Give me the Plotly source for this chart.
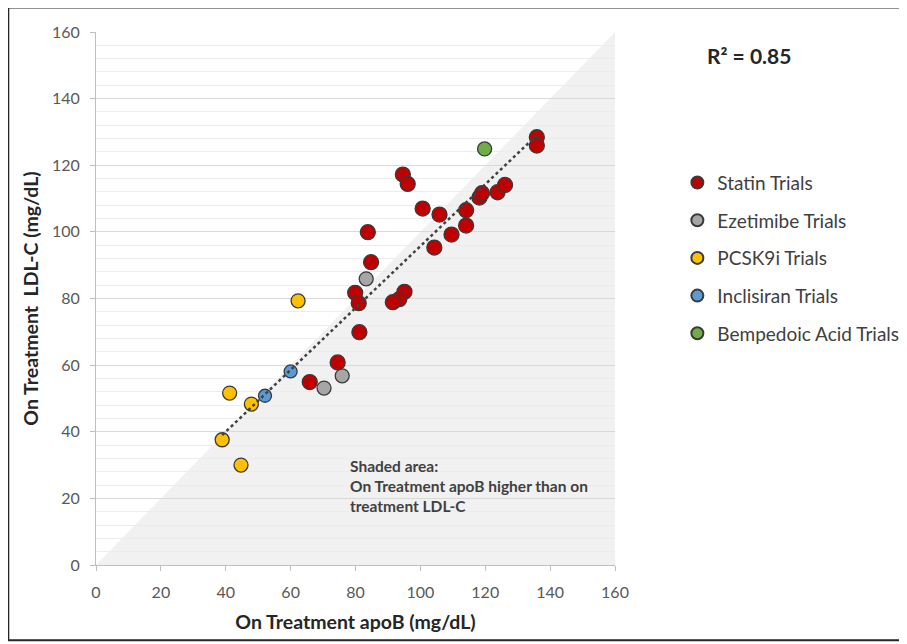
import numpy as np
import plotly.graph_objects as go

# ---- data ----
statin_apob = [135.9, 135.9, 94.6, 96.1, 100.7, 105.9, 114.1, 114.1, 109.6, 104.3, 83.8, 84.8,
               79.9, 81.0, 95.1, 93.5, 91.5, 118.2, 119.0, 123.8, 126.1, 81.2, 74.5, 65.9]
statin_ldl = [128.4, 125.9, 117.2, 114.4, 107.0, 105.2, 106.5, 101.9, 99.2, 95.3, 99.9, 90.9,
              81.7, 78.6, 82.0, 79.8, 78.9, 110.3, 111.6, 111.9, 114.1, 69.9, 60.8, 54.9]
ezet_apob = [83.3, 75.9, 70.3]
ezet_ldl = [85.9, 56.8, 53.1]
pcsk9_apob = [62.3, 41.2, 47.9, 38.9, 44.7]
pcsk9_ldl = [79.3, 51.6, 48.3, 37.6, 30.0]
incl_apob = [60.0, 52.1]
incl_ldl = [58.1, 50.8]
bemp_apob = [119.8]
bemp_ldl = [124.9]

axis_ticks = [0, 20, 40, 60, 80, 100, 120, 140, 160]
r2_label = "R² = 0.85"

FONT = "Lato, 'Open Sans', sans-serif"
OUTLINE = "#3a3a3a"

fig = go.Figure()

# shaded triangle (apoB > LDL-C)
fig.add_shape(type="path", path="M 0 0 L 160 0 L 160 160 Z", xref="x", yref="y",
              fillcolor="#f1f1f1", line=dict(width=0), layer="below")

def add_series(name, xs, ys, color, size, rank):
    fig.add_trace(go.Scatter(
        x=xs, y=ys, mode="markers", name=name, legendrank=rank, legendgroup=name,
        marker=dict(color=color, size=size, line=dict(color=OUTLINE, width=1.3)),
    ))

add_series("Ezetimibe Trials", ezet_apob, ezet_ldl, "#a6a6a6", 14, 2)
add_series("PCSK9i Trials", pcsk9_apob, pcsk9_ldl, "#ffc000", 14, 3)
add_series("Inclisiran Trials", incl_apob, incl_ldl, "#5b9bd5", 13, 4)
add_series("Statin Trials", statin_apob, statin_ldl, "#c00000", 15, 1)
add_series("Bempedoic Acid Trials", bemp_apob, bemp_ldl, "#70ad47", 14, 5)

# linear trendline over all points
all_x = np.array(statin_apob + ezet_apob + pcsk9_apob + incl_apob + bemp_apob)
all_y = np.array(statin_ldl + ezet_ldl + pcsk9_ldl + incl_ldl + bemp_ldl)
slope, intercept = np.polyfit(all_x, all_y, 1)
tx = np.array([all_x.min(), all_x.max()])
fig.add_trace(go.Scatter(x=tx, y=slope * tx + intercept, mode="lines", showlegend=False,
                         line=dict(color="#404040", width=2.5, dash="dot"), hoverinfo="skip"))

# outer frame
fig.add_shape(type="rect", xref="paper", yref="paper",
              x0=-0.169, x1=1.566, y0=-0.141, y1=1.046,
              line=dict(color="#262626", width=2), fillcolor="rgba(0,0,0,0)", layer="above")

fig.add_annotation(text="<b>" + r2_label + "</b>", xref="paper", yref="paper",
                   x=1.173, y=0.956, xanchor="left", yanchor="middle", showarrow=False,
                   font=dict(family=FONT, size=21, color="#262626"))

fig.add_annotation(text="<b>Shaded area:<br>On Treatment apoB higher than on<br>treatment LDL-C</b>",
                   xref="paper", yref="paper", x=0.485, y=0.207, xanchor="left", yanchor="top",
                   align="left", showarrow=False,
                   font=dict(family=FONT, size=15.5, color="#404040"))

axis_common = dict(range=[0, 160], tickvals=axis_ticks, ticktext=[str(t) for t in axis_ticks],
                   showgrid=True, gridcolor="#d9d9d9", gridwidth=1,
                   minor=dict(dtick=4, showgrid=True, gridcolor="#ececec", gridwidth=1),
                   showline=True, linecolor="#bfbfbf", linewidth=1,
                   ticks="outside", ticklen=5, tickcolor="#bfbfbf",
                   tickfont=dict(family=FONT, size=16, color="#595959"),
                   zeroline=False, fixedrange=True)

fig.update_xaxes(**axis_common, ticklabelstandoff=8,
                 title=dict(text="<b>On Treatment apoB (mg/dL)</b>", standoff=15,
                            font=dict(family=FONT, size=19.5, color="#262626")))
fig.update_yaxes(**axis_common, ticklabelstandoff=7,
                 title=dict(text="<b>On Treatment  LDL-C (mg/dL)</b>", standoff=8,
                            font=dict(family=FONT, size=19.5, color="#262626")))
fig.update_xaxes(showgrid=False, minor_showgrid=False)

fig.update_layout(
    width=907, height=644,
    margin=dict(l=88, r=299, t=24, b=87),
    plot_bgcolor="white", paper_bgcolor="white",
    showlegend=True,
    legend=dict(x=1.118, y=0.753, xanchor="left", yanchor="top",
                font=dict(family=FONT, size=19, color="#404040"),
                tracegroupgap=10, itemsizing="constant",
                bgcolor="rgba(0,0,0,0)"),
)

fig.write_html("out.html")
